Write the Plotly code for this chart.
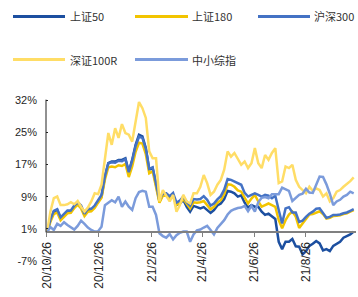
import plotly.graph_objects as go
import pandas as pd

# x categories: every 4 days from 2020-10-26
dates = pd.date_range("2020-10-26", periods=91, freq="4D")

tick_dates = ["2020-10-26", "2020-12-26", "2021-02-26", "2021-04-26", "2021-06-26", "2021-08-26"]
tick_text = ["20/10/26", "20/12/26", "21/2/26", "21/4/26", "21/6/26", "21/8/26"]

y_tickvals = [-7.05, 0.85, 8.75, 16.65, 24.55, 32.45]
y_ticktext = ["-7%", "1%", "9%", "17%", "25%", "32%"]

sz50 = [0.0, 3.0, 5.1, 5.5, 3.4, 4.3, 5.1, 5.1, 6.3, 7.1, 6.3, 4.3, 5.5, 5.5, 6.3, 7.6, 8.8, 13.7, 17.0, 17.4,
        17.4, 17.8, 17.8, 18.2, 14.9, 17.8, 21.5, 24.0, 23.6, 20.7, 15.4, 15.8, 12.1, 7.6, 9.2, 9.2, 8.4, 9.2, 6.7, 7.1,
        8.0, 6.3, 5.1, 6.5,
        6.2, 5.9, 6.2, 5.5, 4.8, 5.5, 6.6, 7.1, 8.2, 10.2, 10.0, 9.6, 8.8, 9.1, 7.3, 6.1, 6.7, 6.3, 6.3, 5.1,
        4.3, 4.6, 3.9, 3.3, -2.3, -4.1, -2.3, -2.3, -1.6, -3.4, -3.5, -5.4, -4.6, -3.3, -2.8, -2.1, -2.7, -4.4, -4.1, -4.6,
        -3.3, -2.7, -2.3, -1.3, -0.9, -0.5, 0.2]

sz180 = [0.0, 2.6, 4.5, 4.9, 3.0, 3.8, 4.7, 4.8, 6.0, 6.8, 5.9, 4.0, 5.1, 5.2, 6.0, 7.3, 8.5, 13.0, 16.0, 16.2,
         16.0, 16.5, 16.3, 16.8, 13.6, 16.2, 19.8, 22.0, 21.8, 19.2, 14.5, 15.0, 11.5, 7.3, 9.0, 9.0, 8.2, 9.0, 6.8, 7.2,
         8.2, 6.9, 5.9, 7.4,
         7.3, 7.4, 7.7, 6.7, 5.7, 6.3, 7.3, 7.9, 9.4, 11.8, 11.7, 11.2, 10.3, 10.0, 8.5, 7.1, 8.3, 9.2, 7.6, 6.3,
         6.7, 7.1, 6.7, 6.3, 3.0, 1.0, 3.0, 4.4, 5.1, 3.9, 1.1, 2.2, 3.3, 4.4, 4.5, 4.9, 5.2, 4.5, 3.4, 3.6,
         4.0, 4.1, 4.2, 4.5, 4.7, 5.1, 5.5]

hs300 = [0.0, 3.2, 5.3, 5.7, 3.7, 4.6, 5.4, 5.4, 6.6, 7.4, 6.6, 4.6, 5.8, 5.8, 6.6, 7.9, 9.2, 13.8, 17.0, 17.2,
         17.1, 17.6, 17.5, 18.0, 14.8, 17.6, 21.2, 23.5, 23.2, 20.5, 15.6, 16.0, 12.4, 8.0, 9.6, 9.6, 8.9, 9.7, 7.3, 7.8,
         8.8, 7.5, 6.6, 8.2,
         8.1, 8.2, 8.9, 8.0, 6.6, 7.1, 8.1, 8.9, 10.5, 13.1, 12.9, 12.5, 12.0, 11.7, 9.7, 8.8, 9.2, 9.6, 9.2, 8.8,
         9.2, 9.0, 8.4, 9.0, 5.5, 2.2, 5.9, 6.2, 4.9, 4.9, 2.6, 2.9, 3.8, 4.6, 5.1, 5.8, 5.9, 4.7, 3.6, 3.8,
         4.3, 4.3, 4.4, 4.7, 4.9, 5.3, 5.7]

sz100r = [0.0, 5.1, 8.4, 8.8, 6.7, 6.7, 6.9, 7.4, 6.9, 7.7, 6.3, 5.1, 6.1, 7.6, 9.6, 9.4, 11.7, 18.0, 24.4, 21.5,
          25.6, 23.2, 26.6, 24.4, 24.0, 22.3, 27.3, 32.0, 30.5, 28.1, 19.9, 18.2, 18.2, 7.6, 10.4, 8.8, 7.6, 9.2, 5.1, 6.7,
          9.2, 7.6, 7.1, 9.6,
          9.6, 11.2, 14.1, 12.1, 9.2, 10.0, 11.7, 12.9, 15.4, 19.9, 18.6, 19.5, 18.2, 16.6, 17.4, 15.8, 17.0, 20.7, 17.0, 15.8,
          19.0, 17.8, 19.5, 20.7, 12.1, 12.5, 16.2, 15.8, 16.6, 12.9, 11.2, 10.4, 9.6, 11.2, 10.2, 10.8, 10.4, 8.8, 9.6, 7.6,
          8.4, 10.0, 10.4, 11.2, 11.8, 12.6, 13.5]

zxzz = [0.0, 1.3, 0.6, 2.1, 1.6, 2.5, 1.8, 1.3, 0.7, 1.6, 2.9, 2.1, 1.2, 0.6, 0.2, 0.3, 1.4, 6.7, 7.4, 7.9,
        7.4, 8.8, 6.3, 7.6, 6.3, 5.5, 8.4, 9.9, 10.2, 10.0, 6.3, 6.3, 4.3, -0.2, -0.9, -1.3, -0.4, -1.7, -0.7, -0.1,
        0.2, 0.2, -2.3, -0.5,
        0.5, 0.7, 1.2, 1.6, 0.6, -0.5, 1.1, 2.0, 3.0, 4.4, 5.3, 5.7, 6.0, 6.1, 6.5, 5.2, 6.5, 5.1, 7.4, 8.5,
        8.7, 8.4, 9.4, 9.4, 9.4, 11.0, 10.6, 10.2, 7.7, 8.5, 9.2, 9.5, 10.7, 9.8, 9.7, 11.7, 13.7, 13.6, 11.8, 9.5,
        6.7, 7.6, 8.0, 8.8, 9.2, 10.0, 9.6]

names = ["上证50", "上证180", "沪深300", "深证100R", "中小综指"]
series = [sz50, sz180, hs300, sz100r, zxzz]
colors = ["#1C4FA0", "#F2C400", "#4472C4", "#FFDD66", "#7B9BDB"]

W, H = 358, 297
ML, MR, MT, MB = 46, 2, 98.3, 32.2
YMIN, YMAX = -8, 33
PW, PH = W - ML - MR, H - MT - MB


def px_x(p):
    return (p - ML) / PW


def px_y(p):
    return (H - MB - p) / PH


fig = go.Figure()
for name, vals, color in zip(names, series, colors):
    fig.add_trace(go.Scatter(x=dates, y=vals, mode="lines", name=name,
                             line=dict(color=color, width=2.5), showlegend=False,
                             hoverinfo="skip"))

font_family = "Liberation Sans, Arial, sans-serif"

# manual legend
legend_pos = [(13, 65, 68, 17), (135, 188, 190, 17), (258, 310, 312, 17),
              (13, 65, 68, 60), (135, 188, 190, 60)]
shapes = []
annotations = []
for (x0, x1, tx, yy), name, color in zip(legend_pos, names, colors):
    shapes.append(dict(type="line", xref="paper", yref="paper",
                       x0=px_x(x0), x1=px_x(x1), y0=px_y(yy), y1=px_y(yy),
                       line=dict(color=color, width=3)))
    annotations.append(dict(xref="paper", yref="paper", x=px_x(tx), y=px_y(yy),
                            text=name, showarrow=False, xanchor="left", yanchor="middle",
                            font=dict(size=11, color="#333333",
                                      family="Noto Sans CJK SC, Liberation Sans, sans-serif")))

# vertical axis line only above zero
shapes.append(dict(type="line", xref="paper", yref="y", x0=0, x1=0, y0=0, y1=32.6,
                   line=dict(color="#222222", width=1)))

fig.update_layout(
    width=W, height=H,
    margin=dict(l=ML, r=MR, t=MT, b=MB, autoexpand=False),
    paper_bgcolor="white", plot_bgcolor="white",
    shapes=shapes, annotations=annotations,
    showlegend=False,
    hovermode=False,
    xaxis=dict(type="date", range=["2020-10-24 20:00", "2021-10-23 17:00"],
               anchor="free", position=(0 - YMIN) / (YMAX - YMIN),
               showline=True, linecolor="#808080", linewidth=1.5,
               ticks="outside", ticklen=4, tickcolor="#808080", tickwidth=1,
               tickvals=tick_dates, ticktext=tick_text, tickangle=-90,
               tickfont=dict(size=12, color="#262626", family=font_family),
               showgrid=False, zeroline=False, automargin=False),
    yaxis=dict(range=[YMIN, YMAX], tickvals=y_tickvals, ticktext=y_ticktext,
               showline=False, ticks="inside", ticklen=2, tickcolor="#222222",
               ticklabelstandoff=8,
               tickfont=dict(size=11, color="#262626",
                             family="Liberation Sans Narrow, Liberation Sans, Arial, sans-serif"),
               showgrid=False, zeroline=False, automargin=False),
)

fig.write_html("out.html", config={"displayModeBar": False},
               post_script="document.body.style.margin='0px';")
